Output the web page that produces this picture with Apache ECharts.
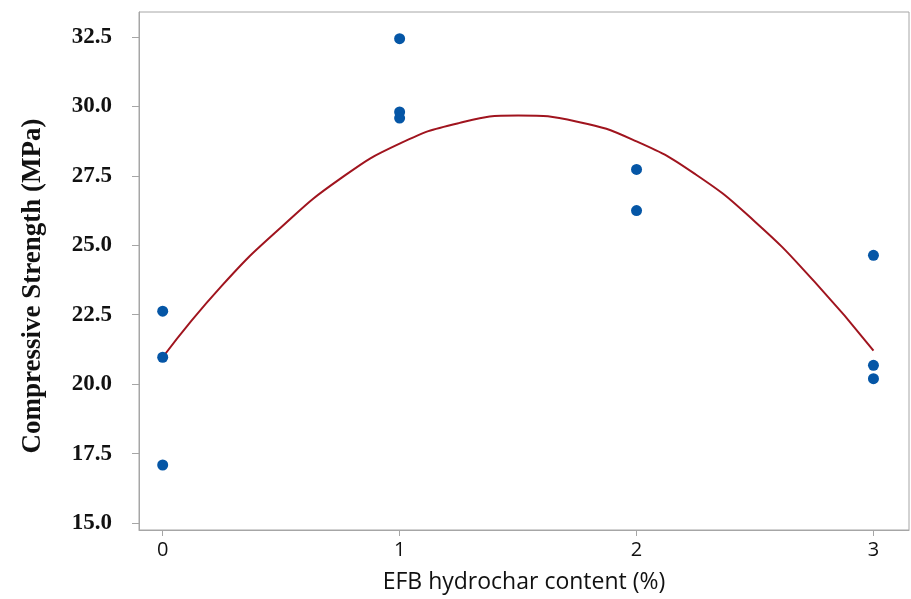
<!DOCTYPE html>
<html><head><meta charset="utf-8">
<script src="https://cdn.jsdelivr.net/npm/echarts@6/dist/echarts.min.js"></script>
<style>html,body{margin:0;padding:0;background:#fff}#c{width:911px;height:599px}</style>
</head><body><div id="c"></div>
<script>
// observed points
const pointX = [0, 0, 0, 1, 1, 1, 2, 2, 3, 3, 3];
const pointY = [22.63, 20.97, 17.09, 32.44, 29.80, 29.58, 27.73, 26.25, 24.64, 20.68, 20.20];
// fitted curve
const fitX = [0, 0.25, 0.5, 0.75, 1.0, 1.25, 1.5, 1.75, 2.0, 2.25, 2.5, 2.75, 3.0];
const fitY = [20.97, 23.55, 25.65, 27.40, 28.66, 29.40, 29.67, 29.45, 28.74, 27.55, 25.85, 23.70, 21.21];
const xTicks = [0, 1, 2, 3];
const yTicks = [15, 17.5, 20, 22.5, 25, 27.5, 30, 32.5];
const xTitle = 'EFB hydrochar content (%)';
const yTitle = 'Compressive Strength (MPa)';

const chart = echarts.init(document.getElementById('c'), null, {renderer: 'canvas'});
const axisCol = '#a6a6a6';
chart.setOption({
  animation: false,
  backgroundColor: '#ffffff',
  grid: {left: 139, right: 2, top: 12, bottom: 68, show: true, borderColor: axisCol, borderWidth: 1},
  xAxis: {
    type: 'value', min: -0.1, max: 3.15,
    splitLine: {show: false},
    axisLine: {show: true, onZero: false, lineStyle: {color: axisCol, width: 1}},
    axisTick: {show: true, inside: false, length: 6, customValues: xTicks, lineStyle: {color: axisCol}},
    axisLabel: {customValues: xTicks, margin: 10, color: '#111', fontFamily: 'Open Sans', fontSize: 20,
      formatter: v => String(Math.round(v))},
    name: xTitle, nameLocation: 'middle', nameGap: 41,
    nameTextStyle: {color: '#111', fontFamily: 'Open Sans', fontSize: 23}
  },
  yAxis: {
    type: 'value', min: 14.75, max: 33.4,
    splitLine: {show: false},
    axisLine: {show: true, onZero: false, lineStyle: {color: axisCol, width: 1}},
    axisTick: {show: true, inside: false, length: 7, customValues: yTicks, lineStyle: {color: axisCol}},
    axisLabel: {customValues: yTicks, margin: 27, color: '#111', fontFamily: 'Liberation Serif', fontWeight: 'bold', fontSize: 23,
      formatter: v => v.toFixed(1)},
    name: yTitle, nameLocation: 'middle', nameGap: 92, nameRotate: 90,
    nameTextStyle: {color: '#111', fontFamily: 'Liberation Serif', fontWeight: 'bold', fontSize: 27, padding: [0, 30, 0, 0]}
  },
  series: [
    {
      type: 'line', data: fitX.map((x, i) => [x, fitY[i]]), smooth: true, showSymbol: false,
      lineStyle: {color: '#a0141e', width: 2}, z: 2
    },
    {
      type: 'scatter', data: pointX.map((x, i) => [x, pointY[i]]), symbolSize: 11,
      itemStyle: {color: '#0556a6', opacity: 1}, z: 3
    }
  ]
});
</script></body></html>
